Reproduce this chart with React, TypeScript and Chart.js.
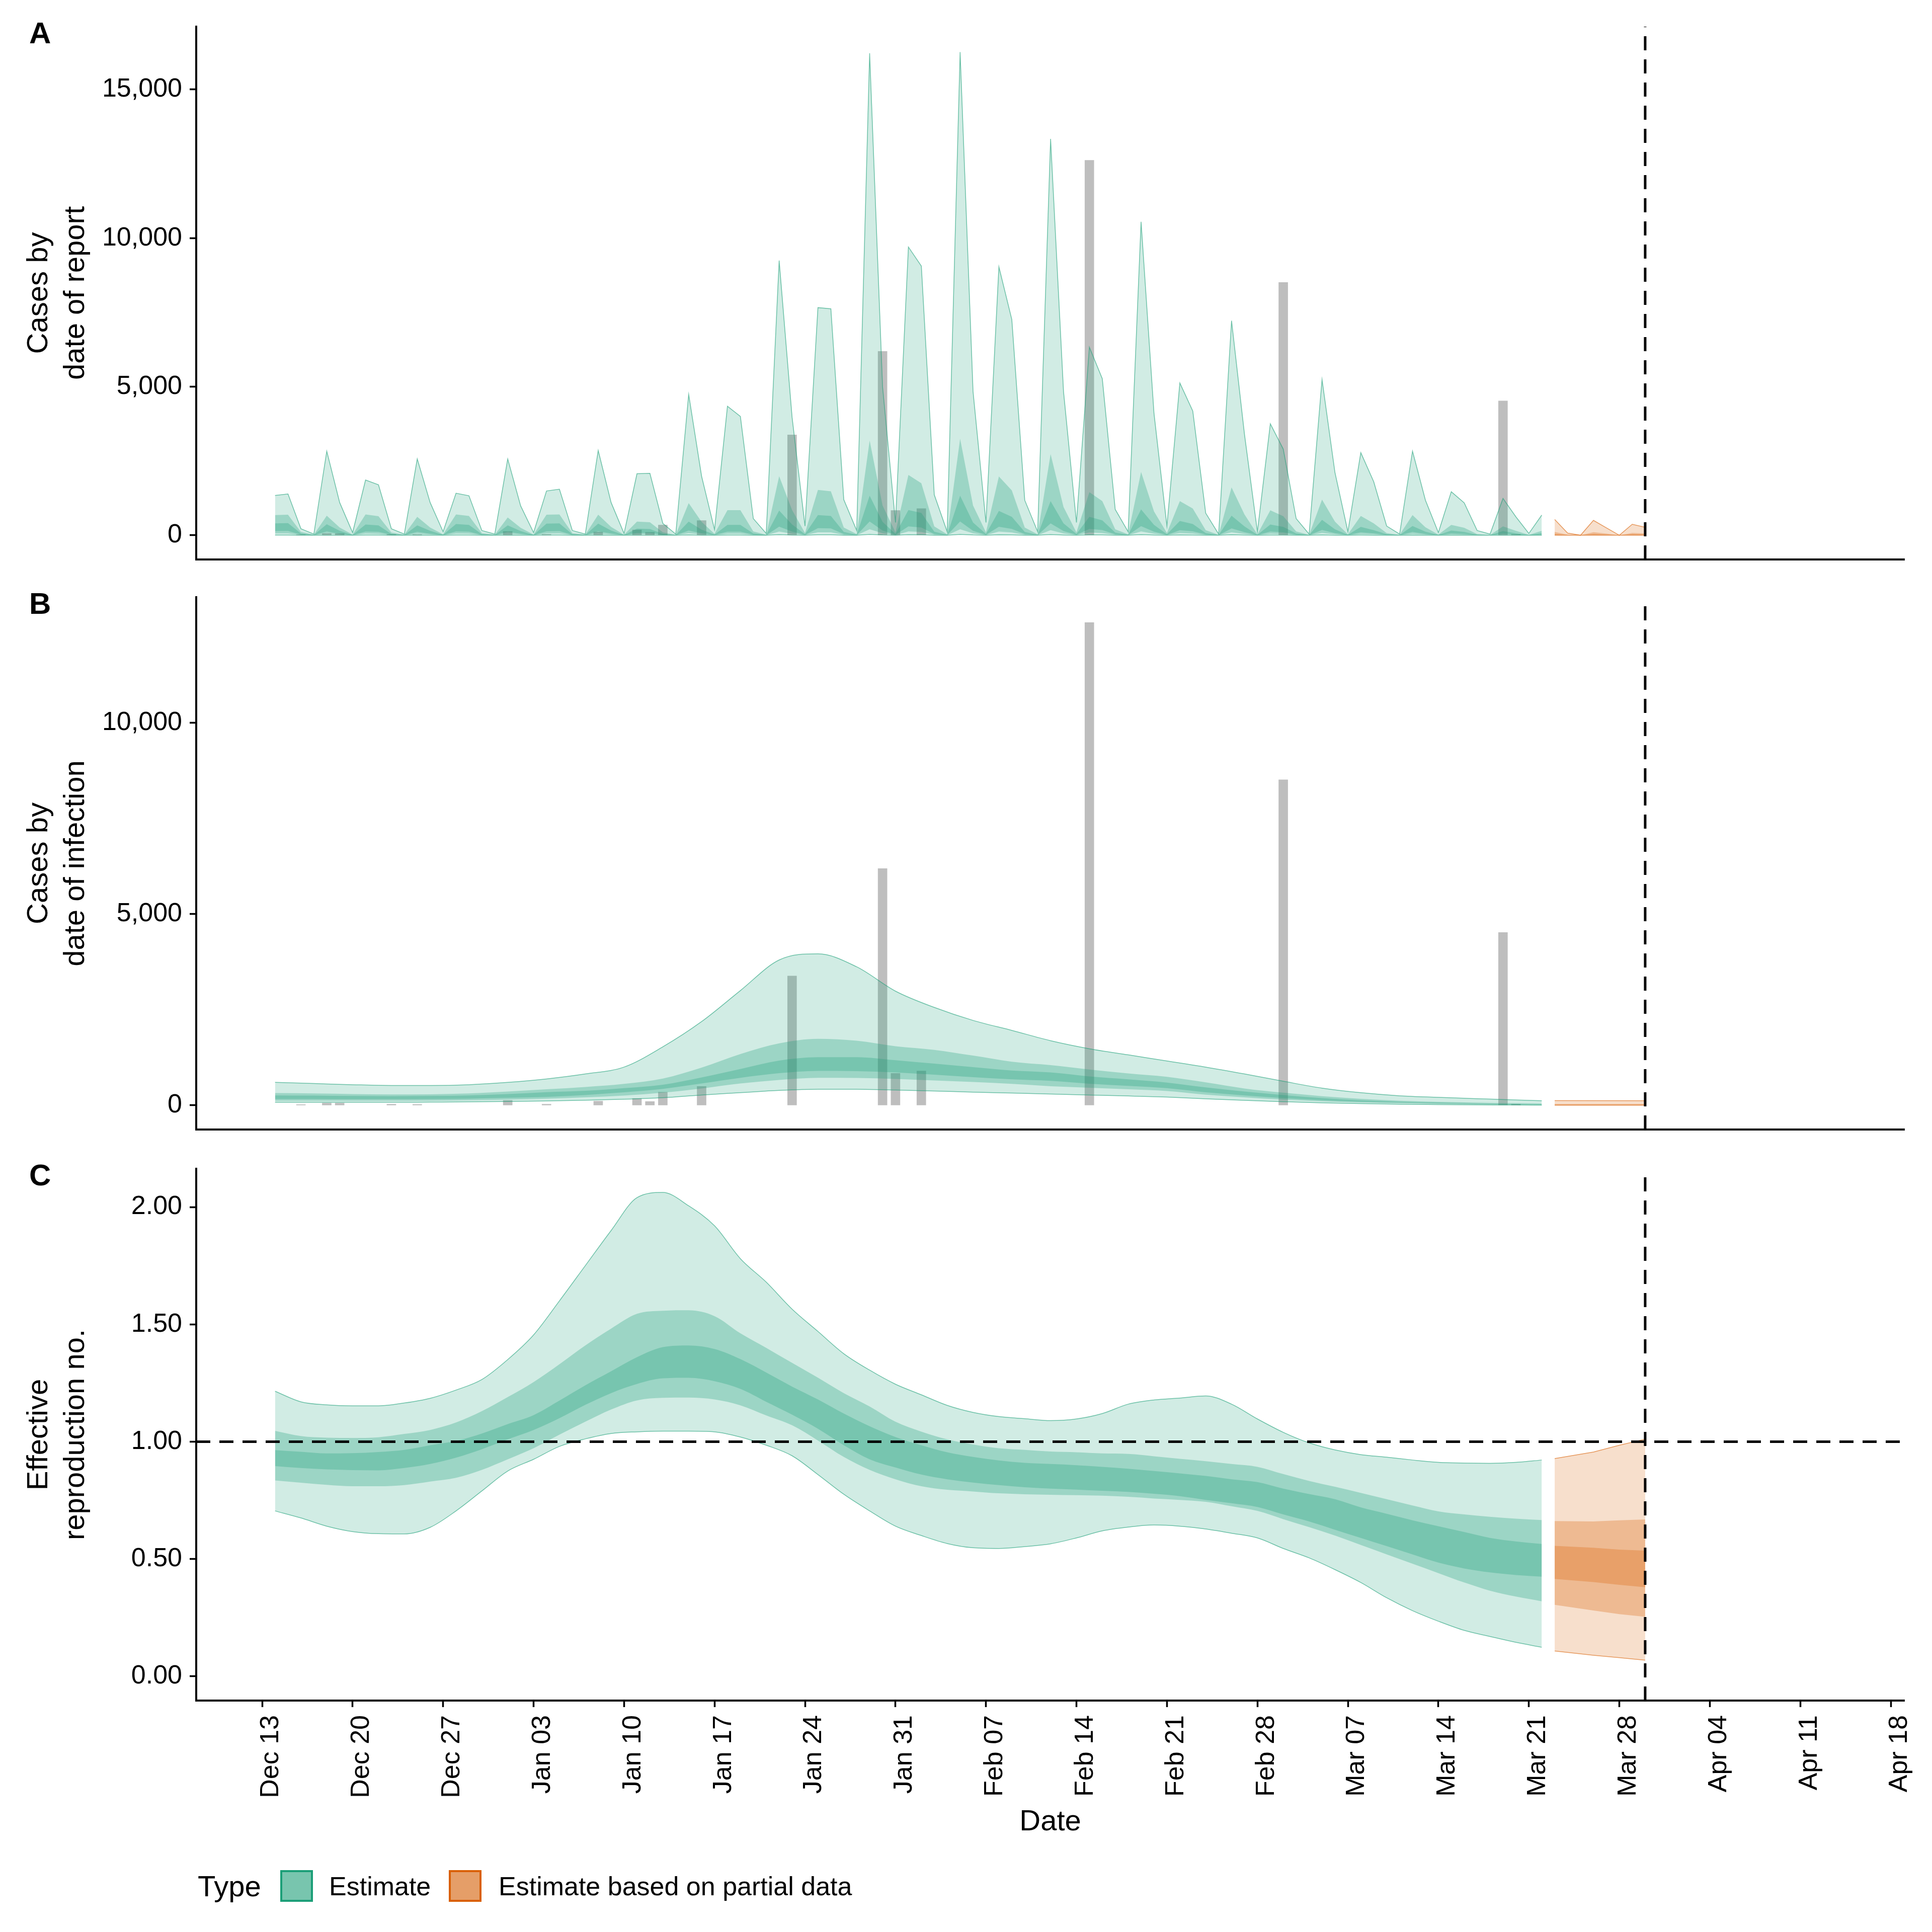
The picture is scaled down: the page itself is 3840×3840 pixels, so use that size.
import React, { useEffect, useRef } from "react";
import { Chart, registerables } from "chart.js";

Chart.register(...registerables);

const FONT = "'Liberation Sans', Arial, Helvetica, sans-serif";
Chart.defaults.font.family = FONT;

// ---------- x axis (days since Dec 13) ----------
const TICK_DAYS = [0, 7, 14, 21, 28, 35, 42, 49, 56, 63, 70, 77, 84, 91, 98, 105, 112, 119, 126];
const TICK_LABELS = [
  "Dec 13", "Dec 20", "Dec 27", "Jan 03", "Jan 10", "Jan 17", "Jan 24", "Jan 31",
  "Feb 07", "Feb 14", "Feb 21", "Feb 28", "Mar 07", "Mar 14", "Mar 21", "Mar 28",
  "Apr 04", "Apr 11", "Apr 18",
];
const X_MIN = -5.1;
const X_MAX = 127.05;
const FORECAST_DAY = 107; // Mar 30
const R_THRESHOLD = 1;

// ---------- reported cases (grey bars) ----------
const BAR_DAYS = [3, 5, 6, 10, 12, 19, 22, 26, 29, 30, 31, 34, 41, 48, 49, 51, 64, 79, 96, 97];
const BAR_VALUES = [20, 60, 60, 30, 25, 130, 30, 110, 180, 100, 345, 495, 3380, 6190, 835, 900, 12620, 8510, 4520, 30];

// ---------- Panel A: cases by date of report (daily, Dec 14 .. Mar 22) ----------
const A_START_DAY = 1;
const A_U90 = [1340,1390,220,40,2830,1100,90,1860,1700,220,40,2570,1100,120,1415,1330,160,40,2570,990,90,1490,1550,160,40,2855,1100,60,2070,2085,400,40,4740,1985,190,4340,4000,560,60,9245,3970,310,7660,7620,1200,160,16220,5000,430,9700,9060,1365,120,16260,4840,430,9035,7260,1180,120,13340,4840,430,6330,5270,870,120,10550,4100,310,5125,4180,745,40,7220,3400,120,3750,2900,560,40,5240,2110,120,2780,1800,310,40,2830,1180,90,1465,1090,160,40,1240,620,60,680];
const A_U50 = [680,690,110,20,660,260,25,700,640,90,20,620,260,30,700,650,70,20,600,250,25,690,700,70,20,690,280,20,460,440,100,15,1080,450,50,845,845,130,20,1985,850,80,1525,1480,260,40,3190,1000,100,2030,1750,300,30,3250,1000,100,1980,1510,260,30,2730,950,100,1450,1150,200,30,2130,800,80,1150,900,170,15,1610,700,30,840,640,130,15,1200,460,30,650,400,75,15,680,270,25,350,250,40,12,300,150,15,150];
const A_U20 = [400,410,60,10,370,150,12,360,330,45,10,330,150,15,380,350,35,10,330,140,12,390,400,35,10,390,160,10,220,210,50,8,460,190,25,350,350,60,10,830,360,35,680,650,110,20,1330,450,45,850,750,120,15,1330,430,45,820,620,110,15,1150,400,45,620,500,90,15,870,350,35,480,380,75,8,660,300,15,360,280,60,8,520,200,15,280,170,35,8,310,120,12,160,110,18,6,140,65,8,70];
const A_L20 = [140,145,20,4,130,50,4,125,115,15,4,115,50,5,130,120,12,4,115,50,4,135,140,12,4,135,55,4,75,75,18,3,160,65,9,120,120,20,4,290,125,12,240,230,40,7,465,160,16,300,260,42,5,465,150,16,285,215,38,5,400,140,16,215,175,30,5,305,120,12,170,135,26,3,230,105,5,125,100,20,3,180,70,5,100,60,12,3,110,42,4,55,40,6,2,50,22,3,25];
const A_L50 = [60,62,9,2,55,22,2,55,50,7,2,50,22,2,57,52,5,2,50,21,2,58,60,5,2,58,24,2,33,32,8,1,70,28,4,52,52,9,2,125,54,5,100,98,16,3,200,68,7,128,112,18,2,200,65,7,123,93,16,2,172,60,7,93,75,14,2,130,52,5,72,57,11,1,100,45,2,54,42,9,1,78,30,2,42,26,5,1,46,18,2,24,16,3,1,21,10,1,10];
const A_L90 = [8,8,1,0,7,3,0,7,7,1,0,7,3,0,7,7,1,0,7,3,0,8,8,1,0,8,3,0,4,4,1,0,9,4,0,7,7,1,0,17,7,1,14,13,2,0,27,9,1,17,15,2,0,27,9,1,16,12,2,0,23,8,1,12,10,2,0,17,7,1,10,8,1,0,13,6,0,7,6,1,0,10,4,0,6,3,1,0,6,2,0,3,2,0,0,3,1,0,1];

// partial data (Mar 23 .. Mar 30)
const AP_START_DAY = 100;
const AP_U90 = [530, 75, 0, 500, 250, 0, 370, 270];
const AP_U50 = [110, 18, 0, 105, 55, 0, 80, 60];
const AP_U20 = [45, 8, 0, 45, 22, 0, 35, 25];
const AP_L20 = [15, 3, 0, 15, 8, 0, 12, 9];
const AP_L50 = [6, 1, 0, 6, 3, 0, 5, 4];
const AP_L90 = [1, 0, 0, 1, 0, 0, 1, 1];

// ---------- Panel B: cases by date of infection ----------
const B_DAYS = [1,4,7,10,13,16,19,22,25,28,31,34,37,40,43,46,49,52,55,58,61,64,67,70,73,76,79,82,85,88,91,94,97,99];
const B_U90 = [600,570,540,520,520,540,600,690,820,1000,1530,2190,3000,3800,3960,3620,2985,2560,2220,1960,1690,1480,1320,1160,1000,820,630,450,330,250,210,175,140,120];
const B_U50 = [320,310,295,285,290,310,360,420,480,560,700,985,1340,1620,1740,1690,1545,1450,1300,1140,1050,935,835,745,600,440,330,240,170,120,90,70,55,50];
const B_U20 = [260,255,245,240,245,260,295,345,380,450,540,730,950,1170,1260,1260,1180,1090,1000,910,860,755,680,595,470,360,270,190,130,95,70,50,35,25];
const B_L20 = [165,165,160,160,165,175,195,220,270,340,430,570,720,840,900,895,860,800,735,680,640,565,510,450,340,260,190,135,95,70,50,35,25,15];
const B_L50 = [120,120,120,120,125,135,150,175,210,255,330,440,570,665,720,715,690,650,610,560,500,460,420,375,280,210,150,105,75,55,40,25,15,10];
const B_L90 = [80,80,80,80,85,90,100,115,135,160,200,270,330,390,420,420,400,375,345,320,295,270,245,215,170,130,95,65,45,30,20,12,8,5];

const BP_DAYS = [100, 107];
const BP_U90 = [125, 120];
const BP_U50 = [35, 35];
const BP_U20 = [25, 25];
const BP_L20 = [15, 15];
const BP_L50 = [10, 10];
const BP_L90 = [3, 3];

// ---------- Panel C: effective reproduction number ----------
const C_DAYS = [1,3,5,7,9,11,13,15,17,19,21,23,25,27,29,31,33,35,37,39,41,43,45,47,49,51,53,55,57,59,61,63,65,67,69,71,73,75,77,79,81,83,85,87,89,91,93,95,97,99];
const C_U90 = [1.215,1.17,1.157,1.153,1.153,1.165,1.185,1.22,1.265,1.35,1.455,1.6,1.75,1.9,2.04,2.062,2.005,1.92,1.78,1.68,1.565,1.47,1.375,1.305,1.245,1.2,1.155,1.125,1.107,1.098,1.09,1.097,1.12,1.16,1.178,1.186,1.195,1.16,1.097,1.04,0.995,0.965,0.945,0.934,0.922,0.912,0.909,0.908,0.912,0.922];
const C_U50 = [1.046,1.024,1.017,1.016,1.019,1.033,1.05,1.082,1.13,1.19,1.254,1.33,1.41,1.482,1.545,1.558,1.56,1.535,1.462,1.4,1.336,1.273,1.207,1.15,1.085,1.043,1.01,0.988,0.972,0.965,0.958,0.955,0.95,0.948,0.938,0.927,0.917,0.905,0.893,0.862,0.833,0.808,0.782,0.755,0.728,0.703,0.69,0.68,0.672,0.666];
const C_U20 = [0.964,0.957,0.95,0.951,0.956,0.965,0.985,1.003,1.035,1.075,1.113,1.175,1.24,1.3,1.36,1.403,1.41,1.395,1.352,1.295,1.235,1.18,1.12,1.066,1.02,0.985,0.955,0.935,0.92,0.91,0.905,0.9,0.893,0.885,0.875,0.865,0.854,0.84,0.828,0.8,0.777,0.755,0.72,0.693,0.665,0.64,0.615,0.59,0.575,0.564];
const C_L20 = [0.896,0.888,0.882,0.879,0.878,0.888,0.905,0.932,0.968,1.01,1.05,1.1,1.157,1.207,1.246,1.27,1.272,1.258,1.225,1.17,1.115,1.055,0.985,0.925,0.89,0.86,0.84,0.826,0.815,0.806,0.8,0.796,0.791,0.786,0.778,0.768,0.752,0.738,0.722,0.69,0.66,0.625,0.59,0.555,0.52,0.485,0.46,0.443,0.432,0.425];
const C_L50 = [0.835,0.825,0.816,0.81,0.81,0.815,0.83,0.846,0.88,0.925,0.972,1.03,1.085,1.137,1.176,1.187,1.188,1.18,1.155,1.112,1.07,1.005,0.935,0.88,0.84,0.81,0.795,0.788,0.78,0.776,0.774,0.772,0.77,0.765,0.758,0.752,0.744,0.725,0.705,0.67,0.636,0.6,0.56,0.52,0.48,0.44,0.4,0.365,0.34,0.32];
const C_L90 = [0.705,0.675,0.64,0.617,0.608,0.607,0.635,0.705,0.79,0.875,0.925,0.98,1.012,1.035,1.042,1.045,1.045,1.042,1.02,0.985,0.94,0.86,0.776,0.705,0.64,0.6,0.566,0.548,0.545,0.553,0.565,0.59,0.62,0.636,0.645,0.64,0.628,0.61,0.59,0.545,0.505,0.455,0.4,0.335,0.28,0.235,0.196,0.17,0.145,0.124];

const CP_DAYS = [100, 103, 105, 107];
const CP_U90 = [0.928, 0.956, 0.985, 1.011];
const CP_U50 = [0.662, 0.66, 0.665, 0.669];
const CP_U20 = [0.556, 0.548, 0.54, 0.536];
const CP_L20 = [0.415, 0.402, 0.39, 0.38];
const CP_L50 = [0.305, 0.281, 0.265, 0.254];
const CP_L90 = [0.108, 0.09, 0.08, 0.069];

// ---------- axes ----------
const A_Y_TICKS = [0, 5000, 10000, 15000];
const B_Y_TICKS = [0, 5000, 10000];
const C_Y_TICKS = [0, 0.5, 1, 1.5, 2];
const A_Y_RANGE = [-815, 17115];
const B_Y_RANGE = [-632, 13282];
const C_Y_RANGE = [-0.103, 2.163];

const GREEN = [27, 158, 119];
const ORANGE = [217, 95, 2];

const TICK_FONT = 52;
const TITLE_FONT = 58;

function seqDays(start: number, n: number) {
  return Array.from({ length: n }, (_, i) => start + i);
}
function xy(days: number[], vals: number[]) {
  return days.map((d, i) => ({ x: d, y: vals[i] }));
}

function bandDatasets(days: number[], l90: number[], l50: number[], l20: number[], u20: number[], u50: number[], u90: number[], rgb: number[], smooth: boolean) {
  const c = (a: number) => `rgba(${rgb[0]},${rgb[1]},${rgb[2]},${a})`;
  const common: any = {
    type: "line",
    pointRadius: 0,
    pointHoverRadius: 0,
    tension: 0,
    cubicInterpolationMode: smooth ? "monotone" : "default",
  };
  const pair = (lo: number[], hi: number[], alpha: number, outline: boolean, order: number) => [
    { ...common, data: xy(days, lo), fill: false, borderColor: outline ? c(0.6) : "rgba(0,0,0,0)", borderWidth: outline ? 1.5 : 0, order },
    { ...common, data: xy(days, hi), fill: "-1", backgroundColor: c(alpha), borderColor: outline ? c(0.6) : "rgba(0,0,0,0)", borderWidth: outline ? 1.5 : 0, order },
  ];
  return [
    ...pair(l90, u90, 0.2, true, 5),
    ...pair(l50, u50, 0.29, false, 4),
    ...pair(l20, u20, 0.285, false, 3),
  ];
}

function barDataset() {
  return {
    type: "bar",
    data: xy(BAR_DAYS, BAR_VALUES),
    backgroundColor: "#BEBEBE",
    borderWidth: 0,
    barThickness: 18,
    grouped: false,
    order: 100,
  };
}

function dashed(data: { x: number; y: number }[]) {
  return {
    type: "line",
    data,
    borderColor: "#000",
    borderWidth: 5,
    borderDash: [28, 18],
    pointRadius: 0,
    fill: false,
    order: 0,
  };
}

function makeOptions(p: {
  padTop: number;
  xAxisHeight: number;
  yRange: number[];
  yTicks: number[];
  yFmt: (v: number) => string;
  yTitle: string[];
  showX: boolean;
}) {
  return {
    responsive: false,
    maintainAspectRatio: false,
    animation: false,
    devicePixelRatio: 1,
    events: [],
    layout: { padding: { left: 42, right: 55, top: p.padTop, bottom: 0 } },
    plugins: {
      legend: { display: false },
      tooltip: { enabled: false },
      title: { display: false },
    },
    scales: {
      x: {
        type: "linear",
        min: X_MIN,
        max: X_MAX,
        offset: false,
        afterBuildTicks: (s: any) => {
          s.ticks = TICK_DAYS.map((v) => ({ value: v }));
        },
        afterFit: (s: any) => {
          s.height = p.xAxisHeight;
          s.paddingLeft = 0;
          s.paddingRight = 0;
          s.paddingTop = 0;
          s.paddingBottom = 0;
        },
        border: { display: true, color: "#000", width: 4 },
        grid: {
          display: p.showX,
          drawOnChartArea: false,
          drawTicks: p.showX,
          tickLength: 13,
          tickColor: "#000",
          tickWidth: 3.5,
        },
        ticks: {
          display: p.showX,
          autoSkip: false,
          minRotation: 90,
          maxRotation: 90,
          padding: 16,
          labelOffset: 18,
          color: "#000",
          font: { family: FONT, size: TICK_FONT },
          callback: (v: any) => {
            const i = TICK_DAYS.indexOf(Number(v));
            return i >= 0 ? TICK_LABELS[i] : "";
          },
        },
        title: p.showX
          ? { display: true, text: "Date", color: "#000", font: { family: FONT, size: TITLE_FONT }, padding: { top: 0, bottom: 183 } }
          : { display: false },
      },
      y: {
        type: "linear",
        min: p.yRange[0],
        max: p.yRange[1],
        afterBuildTicks: (s: any) => {
          s.ticks = p.yTicks.map((v) => ({ value: v }));
        },
        afterFit: (s: any) => {
          s.width = 348;
          s.paddingTop = 0;
          s.paddingBottom = 0;
          s.paddingLeft = 0;
          s.paddingRight = 0;
        },
        border: { display: true, color: "#000", width: 4 },
        grid: {
          display: true,
          drawOnChartArea: false,
          drawTicks: true,
          tickLength: 13,
          tickColor: "#000",
          tickWidth: 3.5,
        },
        ticks: {
          padding: 15,
          color: "#000",
          font: { family: FONT, size: TICK_FONT },
          callback: (v: any) => p.yFmt(Number(v)),
        },
        title: {
          display: true,
          text: p.yTitle,
          color: "#000",
          font: { family: FONT, size: TITLE_FONT, lineHeight: 1.25 },
          padding: { top: 0, bottom: 0 },
        },
      },
    },
  };
}

const fmtThousands = (v: number) => v.toLocaleString("en-US");
const fmtFixed2 = (v: number) => v.toFixed(2);

function configA() {
  const daysA = seqDays(A_START_DAY, A_U90.length);
  const daysP = seqDays(AP_START_DAY, AP_U90.length);
  return {
    type: "line",
    data: {
      datasets: [
        barDataset(),
        ...bandDatasets(daysA, A_L90, A_L50, A_L20, A_U20, A_U50, A_U90, GREEN, false),
        ...bandDatasets(daysP, AP_L90, AP_L50, AP_L20, AP_U20, AP_U50, AP_U90, ORANGE, false),
        dashed([{ x: FORECAST_DAY, y: A_Y_RANGE[0] }, { x: FORECAST_DAY, y: A_Y_RANGE[1] }]),
      ],
    },
    options: makeOptions({
      padTop: 53,
      xAxisHeight: 38,
      yRange: A_Y_RANGE,
      yTicks: A_Y_TICKS,
      yFmt: fmtThousands,
      yTitle: ["Cases by", "date of report"],
      showX: false,
    }),
  };
}

function configB() {
  return {
    type: "line",
    data: {
      datasets: [
        barDataset(),
        ...bandDatasets(B_DAYS, B_L90, B_L50, B_L20, B_U20, B_U50, B_U90, GREEN, true),
        ...bandDatasets(BP_DAYS, BP_L90, BP_L50, BP_L20, BP_U20, BP_U50, BP_U90, ORANGE, false),
        dashed([{ x: FORECAST_DAY, y: B_Y_RANGE[0] }, { x: FORECAST_DAY, y: B_Y_RANGE[1] }]),
      ],
    },
    options: makeOptions({
      padTop: 37,
      xAxisHeight: 45,
      yRange: B_Y_RANGE,
      yTicks: B_Y_TICKS,
      yFmt: fmtThousands,
      yTitle: ["Cases by", "date of infection"],
      showX: false,
    }),
  };
}

function configC() {
  return {
    type: "line",
    data: {
      datasets: [
        ...bandDatasets(C_DAYS, C_L90, C_L50, C_L20, C_U20, C_U50, C_U90, GREEN, true),
        ...bandDatasets(CP_DAYS, CP_L90, CP_L50, CP_L20, CP_U20, CP_U50, CP_U90, ORANGE, false),
        dashed([{ x: FORECAST_DAY, y: C_Y_RANGE[0] }, { x: FORECAST_DAY, y: C_Y_RANGE[1] }]),
        dashed([{ x: X_MIN, y: R_THRESHOLD }, { x: X_MAX, y: R_THRESHOLD }]),
      ],
    },
    options: makeOptions({
      padTop: 33,
      xAxisHeight: 460,
      yRange: C_Y_RANGE,
      yTicks: C_Y_TICKS,
      yFmt: fmtFixed2,
      yTitle: ["Effective", "reproduction no."],
      showX: true,
    }),
  };
}

function ChartCanvas({ top, height, build }: { top: number; height: number; build: () => any }) {
  const ref = useRef<HTMLCanvasElement>(null);
  useEffect(() => {
    const chart = new Chart(ref.current as HTMLCanvasElement, build());
    return () => chart.destroy();
  }, []);
  return (
    <canvas
      ref={ref}
      width={3840}
      height={height}
      style={{ position: "absolute", left: 0, top, width: 3840, height, display: "block" }}
    />
  );
}

function PanelLabel({ text, top }: { text: string; top: number }) {
  return (
    <div style={{ position: "absolute", left: 58, top, font: `bold 60px ${FONT}`, lineHeight: "60px", color: "#000" }}>
      {text}
    </div>
  );
}

export default function App() {
  const textStyle = (size: number) => ({
    position: "absolute" as const,
    font: `${size}px ${FONT}`,
    lineHeight: `${size}px`,
    color: "#000",
    whiteSpace: "nowrap" as const,
  });
  return (
    <div style={{ position: "absolute", left: 0, top: 0, width: 3840, height: 3840, background: "#fff", overflow: "hidden" }}>
      <ChartCanvas top={0} height={1150} build={configA} />
      <ChartCanvas top={1150} height={1140} build={configB} />
      <ChartCanvas top={2290} height={1550} build={configC} />
      <PanelLabel text="A" top={36} />
      <PanelLabel text="B" top={1170} />
      <PanelLabel text="C" top={2306} />
      {/* legend */}
      <div style={{ ...textStyle(58), left: 393, top: 3720 }}>Type</div>
      <div
        style={{
          position: "absolute",
          left: 557,
          top: 3717,
          width: 57,
          height: 55,
          border: "4px solid #1B9E77",
          background: "rgb(120,197,174)",
        }}
      />
      <div style={{ ...textStyle(52), left: 654, top: 3723 }}>Estimate</div>
      <div
        style={{
          position: "absolute",
          left: 892,
          top: 3717,
          width: 57,
          height: 55,
          border: "4px solid #D95F02",
          background: "rgb(229,158,104)",
        }}
      />
      <div style={{ ...textStyle(52), left: 991, top: 3723 }}>Estimate based on partial data</div>
    </div>
  );
}
